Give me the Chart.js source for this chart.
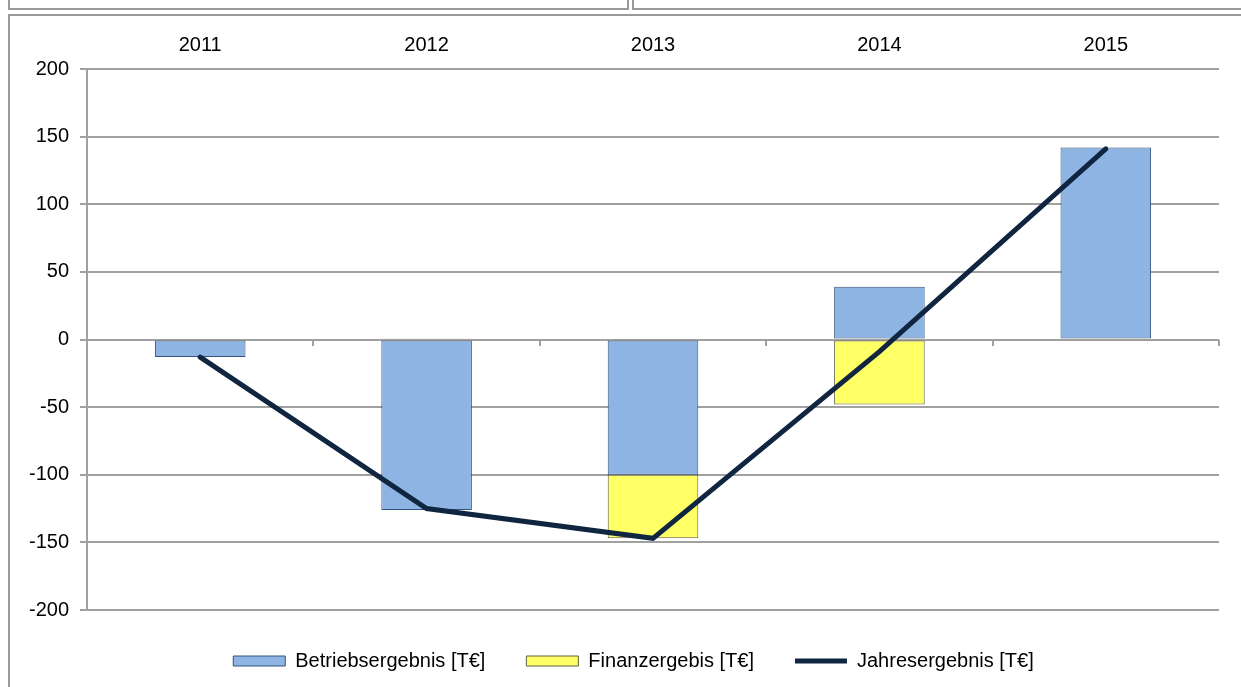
<!DOCTYPE html>
<html>
<head>
<meta charset="utf-8">
<script src="https://cdn.jsdelivr.net/npm/chart.js@4/dist/chart.umd.min.js"></script>
<style>
  html, body { margin: 0; padding: 0; background: #fff; overflow: hidden; }
  .frame { position: absolute; box-sizing: border-box; border: 2px solid #9a9a9a; }
  #c { position: absolute; left: 0; top: 0; }
</style>
</head>
<body>
<div class="frame" style="left:8px; top:-12px; width:621px; height:22px;"></div>
<div class="frame" style="left:632px; top:-12px; width:620px; height:22px;"></div>
<div class="frame" style="left:8px; top:14px; width:1250px; height:700px;"></div>
<canvas id="c" width="1241" height="687"></canvas>
<script>
const categories = ['2011', '2012', '2013', '2014', '2015'];
const betriebsergebnis = [-13, -126, -100, 39, 142];
const finanzergebnis = [0, 1, -47, -48, -1];
const jahresergebnis = [-13, -125, -147, -9, 141];
const yTicks = { min: -200, max: 200, step: 50 };
const seriesNames = ['Betriebsergebnis [T€]', 'Finanzergebis [T€]', 'Jahresergebnis [T€]'];

const FONT = { family: "'Liberation Sans', Arial, sans-serif", size: 20 };
const GRID = '#a0a0a0';

const legendShift = {
  id: 'legendShift',
  afterLayout(chart) {
    const l = chart.legend;
    if (l) { l.left += 24; l.right += 24; }
  }
};

new Chart(document.getElementById('c'), {
  data: {
    labels: categories,
    datasets: [
      { type: 'line', label: seriesNames[2], data: jahresergebnis, borderColor: '#10253F', backgroundColor: '#10253F',
        borderWidth: 5, borderCapStyle: 'round', borderJoinStyle: 'miter', pointRadius: 0, tension: 0, stack: 'line', pointStyle: 'line', order: 0 },
      { type: 'bar', label: seriesNames[0], data: betriebsergebnis, backgroundColor: '#8EB4E3', borderColor: '#34527a', borderWidth: 1,
        borderSkipped: false, stack: 'bars', pointStyle: 'rect', barPercentage: 1, categoryPercentage: 0.4, order: 1 },
      { type: 'bar', label: seriesNames[1], data: finanzergebnis, backgroundColor: '#FFFF66', borderColor: '#5f5f40', borderWidth: 1,
        borderSkipped: false, stack: 'bars', pointStyle: 'rect', barPercentage: 1, categoryPercentage: 0.4, order: 1 }
    ]
  },
  plugins: [legendShift],
  options: {
    responsive: false,
    animation: false,
    devicePixelRatio: 1,
    layout: { padding: { left: 0, right: 22, top: 0, bottom: 6 } },
    scales: {
      x: { type: 'category', position: 'top', stacked: true, offset: true,
        grid: { display: false, drawTicks: false, tickLength: 0 }, border: { display: false },
        ticks: { color: '#000', font: FONT, padding: 12, maxRotation: 0 },
        afterFit: s => { s.height = 69; } },
      x2: { type: 'category', axis: 'x', position: { y: 0 }, offset: true,
        grid: { offset: true, drawOnChartArea: false, drawTicks: true, tickLength: 6, color: GRID, lineWidth: 2 },
        border: { display: false }, ticks: { display: false },
        afterFit: s => { s.height = 0; } },
      y: { position: 'left', stacked: true, min: yTicks.min, max: yTicks.max,
        grid: { color: GRID, lineWidth: 2, tickLength: 7 }, border: { display: true, color: GRID, width: 2 },
        ticks: { stepSize: yTicks.step, color: '#000', font: FONT, padding: 11 },
        afterFit: s => { s.width = 87; } }
    },
    plugins: {
      tooltip: { enabled: false },
      legend: { position: 'bottom', align: 'center',
        labels: { color: '#000', font: FONT, usePointStyle: true, pointStyleWidth: 52, boxHeight: 10, padding: 41,
          sort: (a, b) => [1, 2, 0].indexOf(a.datasetIndex) - [1, 2, 0].indexOf(b.datasetIndex) } }
    }
  }
});
</script>
</body>
</html>
